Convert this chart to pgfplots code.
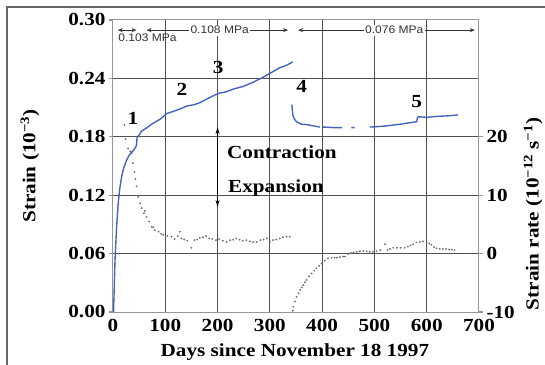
\documentclass[border=0pt]{standalone}
\usepackage{fontspec}
\setmainfont[FakeStretch=1.15]{Liberation Serif}
\newfontfamily\sansf[FakeStretch=1.1]{Liberation Sans}
\usepackage{pgfplots}
\pgfplotsset{compat=1.18}
\pgfplotsset{/pgf/number format/assume math mode=true}
\usetikzlibrary{arrows.meta}
\definecolor{strainblue}{RGB}{70,100,190}
\definecolor{rategray}{RGB}{110,110,110}
\definecolor{gridc}{RGB}{80,80,88}
\definecolor{axc}{RGB}{150,150,150}
\tikzset{myfont/.style={font=\bfseries\fontsize{18.5}{20}\selectfont}}
\begin{document}
\begin{tikzpicture}
\begin{axis}[
  at={(0,0)}, anchor=south west,
  scale only axis, width=366bp, height=292bp,
  xmin=0, xmax=700, ymin=0, ymax=0.30,
  xtick={0,100,200,300,400,500,600,700},
  xticklabels={0,100,200,300,400,500,600,700},
  ytick={0,0.06,0.12,0.18,0.24,0.30},
  yticklabels={0.00,0.06,0.12,0.18,0.24,0.30},
  axis line style={axc, line width=1bp},
  tick style={draw=none},
  tick align=outside, major tick length=4bp,
  ticklabel style={myfont},
  label style={myfont},
  xlabel={Days since November 18 1997},
  ylabel={Strain (10\textsuperscript{−3})},
  xlabel style={at={(axis description cs:0.497,0)}, anchor=center, yshift=-40bp},
  ylabel style={at={(axis description cs:-0.227,0.5)}, anchor=center},
  clip=false,
]
% grid lines (drawn first, behind the data)
\addplot[gridc, line width=1.2bp, forget plot] coordinates {(100,0) (100,0.30)};
\addplot[gridc, line width=1.2bp, forget plot] coordinates {(200,0) (200,0.30)};
\addplot[gridc, line width=1.2bp, forget plot] coordinates {(300,0) (300,0.30)};
\addplot[gridc, line width=1.2bp, forget plot] coordinates {(400,0) (400,0.30)};
\addplot[gridc, line width=1.2bp, forget plot] coordinates {(500,0) (500,0.30)};
\addplot[gridc, line width=1.2bp, forget plot] coordinates {(600,0) (600,0.30)};
\addplot[gridc, line width=1.2bp, forget plot] coordinates {(0,0.06) (700,0.06)};
\addplot[gridc, line width=1.2bp, forget plot] coordinates {(0,0.12) (700,0.12)};
\addplot[gridc, line width=1.2bp, forget plot] coordinates {(0,0.18) (700,0.18)};
\addplot[gridc, line width=1.2bp, forget plot] coordinates {(0,0.24) (700,0.24)};
% left tick marks
\addplot[axc, line width=1.2bp, forget plot] coordinates {(0,0) (-7.6,0)};
\addplot[axc, line width=1.2bp, forget plot] coordinates {(0,0.06) (-7.6,0.06)};
\addplot[axc, line width=1.2bp, forget plot] coordinates {(0,0.12) (-7.6,0.12)};
\addplot[axc, line width=1.2bp, forget plot] coordinates {(0,0.18) (-7.6,0.18)};
\addplot[axc, line width=1.2bp, forget plot] coordinates {(0,0.24) (-7.6,0.24)};
\addplot[axc, line width=1.2bp, forget plot] coordinates {(0,0.30) (-7.6,0.30)};
% strain, first period
\addplot[strainblue, line width=1.4bp] coordinates {
(1,0.000) (2,0.018) (3,0.038) (4,0.055) (5.5,0.072) (7,0.088) (10,0.112) (13,0.127)
(16.5,0.139) (20,0.147) (26,0.156) (32,0.162) (39,0.166) (44,0.170) (45,0.172) (46,0.179)
(50,0.182) (55,0.186) (64,0.189) (74,0.193) (90,0.198) (103,0.204) (115,0.206) (130,0.209)
(141,0.2116) (155,0.213) (166,0.215) (180,0.219) (201,0.2246) (215,0.226) (230,0.229)
(250,0.232) (268,0.236) (290,0.242) (306,0.247) (319,0.251) (330,0.253) (344,0.257)
};
% strain, second period (with gaps)
\addplot[strainblue, line width=1.4bp, unbounded coords=jump] coordinates {
(342,0.213) (343,0.208) (344,0.2023) (347,0.198) (351,0.1955) (360,0.193) (370,0.1926)
(385,0.191) (396,0.190) (399,nan)
(402,0.190) (420,0.1895) (438,0.1895) (447,nan)
(456,0.1895) (462,0.1895) (475,nan)
(491,0.190) (520,0.191) (550,0.193) (575,0.195) (581,0.1955) (582,0.199) (584,0.2006)
(600,0.200) (620,0.201) (640,0.2015) (660,0.2025)
};
% labels 1-5
\node[myfont] at (axis cs:38,0.199) {1};
\node[myfont] at (axis cs:132,0.229) {2};
\node[myfont] at (axis cs:201,0.251) {3};
\node[myfont] at (axis cs:361,0.232) {4};
\node[myfont] at (axis cs:581,0.2157) {5};
% contraction / expansion
\draw[black, line width=1.2bp, {Stealth[length=7bp,width=4bp]}-{Stealth[length=7bp,width=4bp]}]
  (axis cs:200,0.108) -- (axis cs:200,0.190);
\node[myfont, anchor=west, inner sep=0pt] at (axis cs:218,0.1643) {Contraction};
\node[myfont, anchor=west, inner sep=0pt] at (axis cs:220,0.1273) {Expansion};
% stress annotations
\draw[black!80, line width=0.9bp, {Stealth[length=5bp,width=4bp]}-{Stealth[length=5bp,width=4bp]}]
  (axis cs:9,0.2896) -- (axis cs:45,0.2896);
\draw[black!80, line width=0.9bp, {Stealth[length=5bp,width=4bp]}-{Stealth[length=5bp,width=4bp]}]
  (axis cs:64,0.2896) -- (axis cs:335,0.2896);
\draw[black!80, line width=0.9bp, {Stealth[length=5bp,width=4bp]}-{Stealth[length=5bp,width=4bp]}]
  (axis cs:354,0.2896) -- (axis cs:692,0.2896);
\node[fill=white, inner sep=1.5bp, font=\sansf\fontsize{11}{12}\selectfont, text=black!80] at (axis cs:204,0.2896) {0.108 MPa};
\node[fill=white, inner sep=1.5bp, font=\sansf\fontsize{11}{12}\selectfont, text=black!80] at (axis cs:538,0.2896) {0.076 MPa};
\node[inner sep=0pt, font=\sansf\fontsize{11}{12}\selectfont, text=black!80] at (axis cs:66,0.2814) {0.103 MPa};
\end{axis}
\begin{axis}[
  at={(0,0)}, anchor=south west,
  scale only axis, width=366bp, height=292bp,
  xmin=0, xmax=700, ymin=-10, ymax=40,
  hide x axis, axis y line*=right,
  ytick={-10,0,10,20}, yticklabels={-10,0,10,20},
  axis line style={axc, line width=1bp},
  tick style={draw=none},
  tick align=outside, major tick length=4bp,
  ticklabel style={myfont},
  label style={myfont},
  ylabel={Strain rate (10\textsuperscript{−12} s\textsuperscript{−1})},
  ylabel style={at={(axis description cs:1.148,0.336)}, anchor=center},
  clip=false,
]
% right tick marks
\addplot[axc, line width=1.2bp, forget plot] coordinates {(700,-10) (707.6,-10)};
\addplot[axc, line width=1.2bp, forget plot] coordinates {(700,0) (707.6,0)};
\addplot[axc, line width=1.2bp, forget plot] coordinates {(700,10) (707.6,10)};
\addplot[axc, line width=1.2bp, forget plot] coordinates {(700,20) (707.6,20)};
\addplot[only marks, mark=*, mark size=0.7bp, rategray] coordinates {
(22,22.0) (24,19.6) (29,18.0) (33,17.5) (36,17.2) (38,15.5) (41,14.0) (43,12.8) (45,11.5)
(48,9.7) (52,8.6) (55,7.8) (59,6.9) (61,7.3) (64,6.3) (69,5.5) (74,4.6) (77,4.5) (80,4.0)
(87,3.75) (92,3.4) (96,3.2) (104,3.0) (112,2.9) (118,2.5) (124,3.0) (128,3.75) (131,2.6)
(136,2.4) (142,2.2) (150,1.0) (156,2.3) (161,2.4) (166,2.7) (172,2.8) (178,3.0) (184,2.6)
(190,2.5) (197,2.3) (203,2.5) (210,2.2) (217,2.0) (224,2.3) (230,2.4) (236,2.6) (242,2.4)
(248,2.2) (255,2.3) (262,2.1) (268,2.0) (275,2.0) (282,2.3) (288,2.4) (294,2.6) (300,2.0)
(306,2.3) (312,2.4) (319,2.6) (325,2.8) (332,2.9) (338,2.9)
};
\addplot[only marks, mark=*, mark size=0.7bp, rategray] coordinates {
(344,-9.8) (345,-9.1) (348,-8.2) (351,-7.4) (355,-6.8) (358,-6.2) (361,-5.8) (364,-5.4)
(367,-4.9) (370,-4.5) (375,-3.9) (380,-3.4) (385,-2.9) (389,-2.5) (394,-2.1) (399,-1.7)
(405,-1.2) (411,-0.8) (418,-0.7) (424,-0.7) (428,-0.7) (434,-0.6) (440,-0.5) (444,-0.5)
(450,-0.1) (455,0.1) (460,0.2) (466,0.3) (472,0.4) (479,0.45) (485,0.4) (491,0.3) (497,0.3)
(504,0.4) (511,0.6) (520,1.6) (525,0.6) (530,0.8) (536,1.0) (543,1.0) (550,1.0) (558,1.0)
(564,1.2) (569,1.4) (574,1.6) (580,1.9) (587,2.0) (593,2.1) (600,1.9) (605,1.7) (609,1.5)
(614,1.1) (619,0.9) (625,0.8) (631,0.8) (637,0.8) (643,0.7) (648,0.7) (653,0.6)
};
\end{axis}
\draw[black!60, line width=2bp] (-106bp,-90bp) -- (-106bp,305bp) -- (470bp,305bp);
\pgfresetboundingbox
\path[use as bounding box] (-113bp,-53bp) rectangle (432bp,312bp);
\end{tikzpicture}
\end{document}
